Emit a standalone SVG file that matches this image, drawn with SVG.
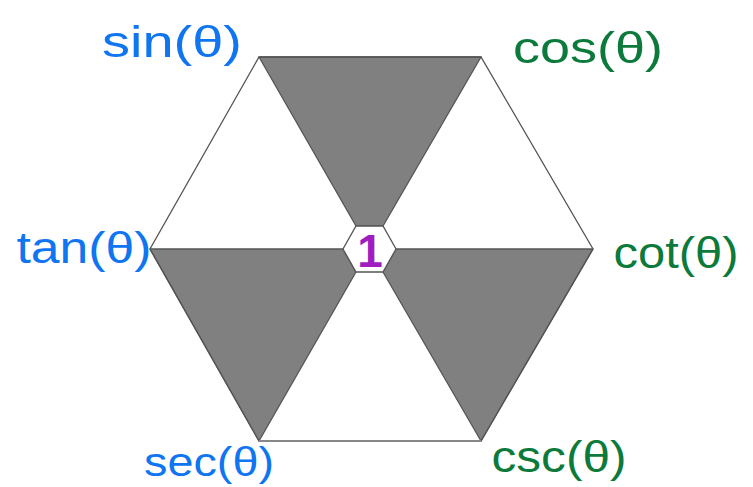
<svg xmlns="http://www.w3.org/2000/svg" width="753" height="487" viewBox="0 0 753 487">
  <style>
    .shade { fill: #808080; stroke: #555; stroke-width: 1.3; stroke-linejoin: round; }
    .edge { fill: none; stroke: #555; stroke-width: 1.3; }
    .lbl { font-family: "Liberation Sans", "DejaVu Sans", sans-serif; font-size: 44px; text-anchor: middle; }
    .blue { fill: #0f75f0; }
    .green { fill: #0b7a3b; }
  </style>
  <rect width="753" height="487" fill="#ffffff"/>
  <g id="hexagon">
    <polygon class="shade" points="259,57 481,57 383,226 356,226"/>
    <polygon class="shade" points="150,249 343,249 356,272 259,441"/>
    <polygon class="shade" points="593,249 396,249 383,272 481,441"/>
    <polygon class="edge" points="259,57 481,57 593,249 481,441 259,441 150,249"/>
    <polygon id="center-hex" fill="#ffffff" stroke="#555" stroke-width="1.3" points="356,226 383,226 396,249 383,272 356,272 343,249"/>
    <line x1="259" y1="441" x2="481" y2="441" stroke="#888" stroke-width="2"/>
  </g>
  <g id="connectors"/>
  <g id="center"><text x="370" y="267" font-family="Liberation Sans, sans-serif" font-size="46" font-weight="bold" fill="#a01ec0" text-anchor="middle">1</text></g>
  <g id="sin"><text class="lbl blue" x="172" y="57" textLength="140" lengthAdjust="spacingAndGlyphs">sin(θ)</text></g>
  <g id="cos"><text class="lbl green" x="588" y="63" textLength="150" lengthAdjust="spacingAndGlyphs">cos(θ)</text></g>
  <g id="tan"><text class="lbl blue" x="84" y="263" textLength="135" lengthAdjust="spacingAndGlyphs">tan(θ)</text></g>
  <g id="cot"><text class="lbl green" x="676" y="268" textLength="125" lengthAdjust="spacingAndGlyphs">cot(θ)</text></g>
  <g id="sec"><text class="lbl blue" x="209" y="476" font-size="40" textLength="130" lengthAdjust="spacingAndGlyphs" style="font-size:40px">sec(θ)</text></g>
  <g id="csc"><text class="lbl green" x="559" y="472" textLength="135" lengthAdjust="spacingAndGlyphs">csc(θ)</text></g>
</svg>
